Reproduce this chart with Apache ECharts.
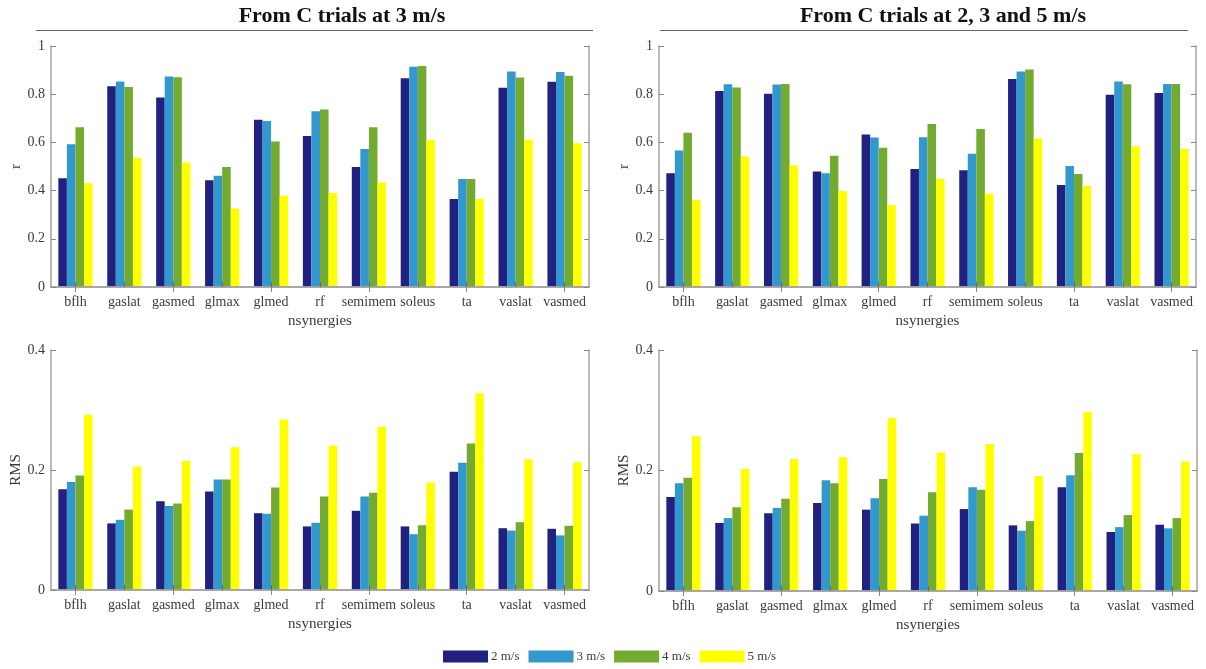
<!DOCTYPE html>
<html>
<head>
<meta charset="utf-8">
<script src="https://cdn.jsdelivr.net/npm/echarts@6/dist/echarts.min.js"></script>
<style>
  html, body { margin: 0; padding: 0; background: #ffffff; }
  #chart { width: 1206px; height: 669px; }
</style>
</head>
<body>
<div id="chart"></div>
<script>
// Muscles on the x axis and walking speeds shown as grouped bars
const muscles = ['bflh', 'gaslat', 'gasmed', 'glmax', 'glmed', 'rf', 'semimem', 'soleus', 'ta', 'vaslat', 'vasmed'];
const speeds = ['2 m/s', '3 m/s', '4 m/s', '5 m/s'];
const panelTitles = ['From C trials at 3 m/s', 'From C trials at 2, 3 and 5 m/s'];

// Correlation r, synergies extracted from C trials at 3 m/s
const rSingle2 = [0.451, 0.833, 0.786, 0.443, 0.694, 0.627, 0.498, 0.866, 0.365, 0.827, 0.852];
const rSingle3 = [0.592, 0.853, 0.873, 0.462, 0.689, 0.729, 0.573, 0.914, 0.448, 0.894, 0.892];
const rSingle4 = [0.663, 0.830, 0.870, 0.498, 0.604, 0.736, 0.663, 0.917, 0.448, 0.869, 0.877];
const rSingle5 = [0.430, 0.535, 0.517, 0.326, 0.379, 0.390, 0.434, 0.611, 0.365, 0.611, 0.596];

// Correlation r, synergies extracted from C trials at 2, 3 and 5 m/s
const rMulti2 = [0.472, 0.813, 0.802, 0.479, 0.633, 0.490, 0.484, 0.863, 0.423, 0.798, 0.805];
const rMulti3 = [0.566, 0.841, 0.840, 0.472, 0.620, 0.621, 0.553, 0.894, 0.502, 0.853, 0.842];
const rMulti4 = [0.640, 0.828, 0.842, 0.545, 0.578, 0.676, 0.656, 0.903, 0.469, 0.841, 0.842];
const rMulti5 = [0.361, 0.541, 0.505, 0.398, 0.340, 0.448, 0.387, 0.616, 0.419, 0.584, 0.573];

// RMS error, synergies from C trials at 3 m/s
const rmsSingle2 = [0.168, 0.111, 0.148, 0.164, 0.128, 0.106, 0.132, 0.106, 0.197, 0.103, 0.102];
const rmsSingle3 = [0.180, 0.117, 0.140, 0.184, 0.127, 0.112, 0.156, 0.093, 0.212, 0.099, 0.091];
const rmsSingle4 = [0.191, 0.134, 0.144, 0.184, 0.171, 0.156, 0.162, 0.108, 0.244, 0.113, 0.107];
const rmsSingle5 = [0.292, 0.206, 0.215, 0.238, 0.284, 0.241, 0.272, 0.179, 0.328, 0.218, 0.213];

// RMS error, synergies from C trials at 2, 3 and 5 m/s
const rmsMulti2 = [0.156, 0.113, 0.129, 0.146, 0.135, 0.112, 0.136, 0.109, 0.172, 0.098, 0.110];
const rmsMulti3 = [0.179, 0.121, 0.138, 0.184, 0.154, 0.125, 0.172, 0.100, 0.192, 0.106, 0.104];
const rmsMulti4 = [0.188, 0.139, 0.153, 0.179, 0.186, 0.164, 0.168, 0.116, 0.229, 0.126, 0.121];
const rmsMulti5 = [0.257, 0.203, 0.219, 0.222, 0.287, 0.230, 0.244, 0.191, 0.297, 0.227, 0.215];

const speedColors = ['#21217f', '#3298cd', '#72ab2f', '#ffff00'];

const FONT = '"Liberation Serif", "Times New Roman", serif';
const AXIS_GREY = '#a3a3a3';
const TEXT_GREY = '#3c3c3c';

// Four panels: r on top, RMS below; left = single-speed model, right = multi-speed model
const panels = [
  { grid: { left: 51,  top: 46,  width: 538, height: 241 }, yName: 'r',   yMax: 1,   series: [rSingle2, rSingle3, rSingle4, rSingle5] },
  { grid: { left: 659, top: 46,  width: 537, height: 241 }, yName: 'r',   yMax: 1,   series: [rMulti2, rMulti3, rMulti4, rMulti5] },
  { grid: { left: 51,  top: 350, width: 538, height: 240 }, yName: 'RMS', yMax: 0.4, series: [rmsSingle2, rmsSingle3, rmsSingle4, rmsSingle5] },
  { grid: { left: 659, top: 350, width: 538, height: 241 }, yName: 'RMS', yMax: 0.4, series: [rmsMulti2, rmsMulti3, rmsMulti4, rmsMulti5] }
];

const grids = [], xAxes = [], yAxes = [], series = [];

panels.forEach((p, i) => {
  grids.push(Object.assign({ containLabel: false }, p.grid));

  // bottom category axis with labels and inward ticks at category centres
  xAxes.push({
    type: 'category', gridIndex: i, data: muscles, position: 'bottom', z: 3,
    name: 'nsynergies', nameLocation: 'middle', nameGap: 27,
    nameTextStyle: { fontFamily: FONT, fontSize: 15, color: TEXT_GREY },
    axisLine: { show: true, lineStyle: { color: AXIS_GREY, width: 1.5 } },
    axisTick: { show: true, inside: true, alignWithLabel: true, length: 5, lineStyle: { color: '#6a6a6a', width: 1 } },
    axisLabel: { fontFamily: FONT, fontSize: 14, color: TEXT_GREY, margin: 8, interval: 0 },
    splitLine: { show: false }
  });
  // mirrored top axis closing the box
  xAxes.push({
    type: 'category', gridIndex: i, data: muscles, position: 'top', z: 3,
    axisLine: { show: true, lineStyle: { color: AXIS_GREY, width: 1.5 } },
    axisTick: { show: true, inside: true, alignWithLabel: true, length: 5, lineStyle: { color: '#8a8a8a', width: 1 } },
    axisLabel: { show: false },
    splitLine: { show: false }
  });

  yAxes.push({
    type: 'value', gridIndex: i, min: 0, max: p.yMax, interval: 0.2, position: 'left', z: 3,
    name: p.yName, nameLocation: 'middle', nameGap: 27, nameRotate: 90,
    nameTextStyle: { fontFamily: FONT, fontSize: 15, color: TEXT_GREY },
    axisLine: { show: true, lineStyle: { color: AXIS_GREY, width: 1.5 } },
    axisTick: { show: true, inside: true, length: 5, lineStyle: { color: '#8a8a8a', width: 1 } },
    axisLabel: { fontFamily: FONT, fontSize: 14, color: TEXT_GREY, margin: 6 },
    splitLine: { show: false }
  });
  yAxes.push({
    type: 'value', gridIndex: i, min: 0, max: p.yMax, interval: 0.2, position: 'right', z: 3,
    axisLine: { show: true, lineStyle: { color: AXIS_GREY, width: 1.5 } },
    axisTick: { show: true, inside: true, length: 5, lineStyle: { color: '#8a8a8a', width: 1 } },
    axisLabel: { show: false },
    splitLine: { show: false }
  });

  p.series.forEach((values, k) => {
    series.push({
      type: 'bar', name: speeds[k],
      xAxisIndex: i * 2, yAxisIndex: i * 2,
      data: values,
      barGap: '0%', barCategoryGap: '30%',
      itemStyle: { color: speedColors[k] },
      emphasis: { disabled: true },
      animation: false
    });
  });
});

// panel headings with a rule underneath
const graphic = [
  { type: 'text', x: 342, y: 16.5, style: { text: panelTitles[0], font: 'bold 22px ' + FONT, fill: '#111', textAlign: 'center', textVerticalAlign: 'middle' } },
  { type: 'text', x: 943, y: 16.5, style: { text: panelTitles[1], font: 'bold 22px ' + FONT, fill: '#111', textAlign: 'center', textVerticalAlign: 'middle' } },
  { type: 'line', shape: { x1: 36, y1: 30.5, x2: 593, y2: 30.5 }, style: { stroke: '#666', lineWidth: 1 } },
  { type: 'line', shape: { x1: 660, y1: 30.5, x2: 1188, y2: 30.5 }, style: { stroke: '#666', lineWidth: 1 } }
];

const chart = echarts.init(document.getElementById('chart'), null, { renderer: 'canvas' });
chart.setOption({
  backgroundColor: '#ffffff',
  animation: false,
  textStyle: { fontFamily: FONT },
  grid: grids,
  xAxis: xAxes,
  yAxis: yAxes,
  legend: {
    data: speeds, left: 443, top: 650, padding: 0,
    itemWidth: 45, itemHeight: 12, itemGap: 9, icon: 'rect',
    selectedMode: false,
    textStyle: { fontFamily: FONT, fontSize: 13, color: TEXT_GREY, padding: [0, 0, 0, -2] }
  },
  graphic: graphic,
  series: series
});
</script>
</body>
</html>
